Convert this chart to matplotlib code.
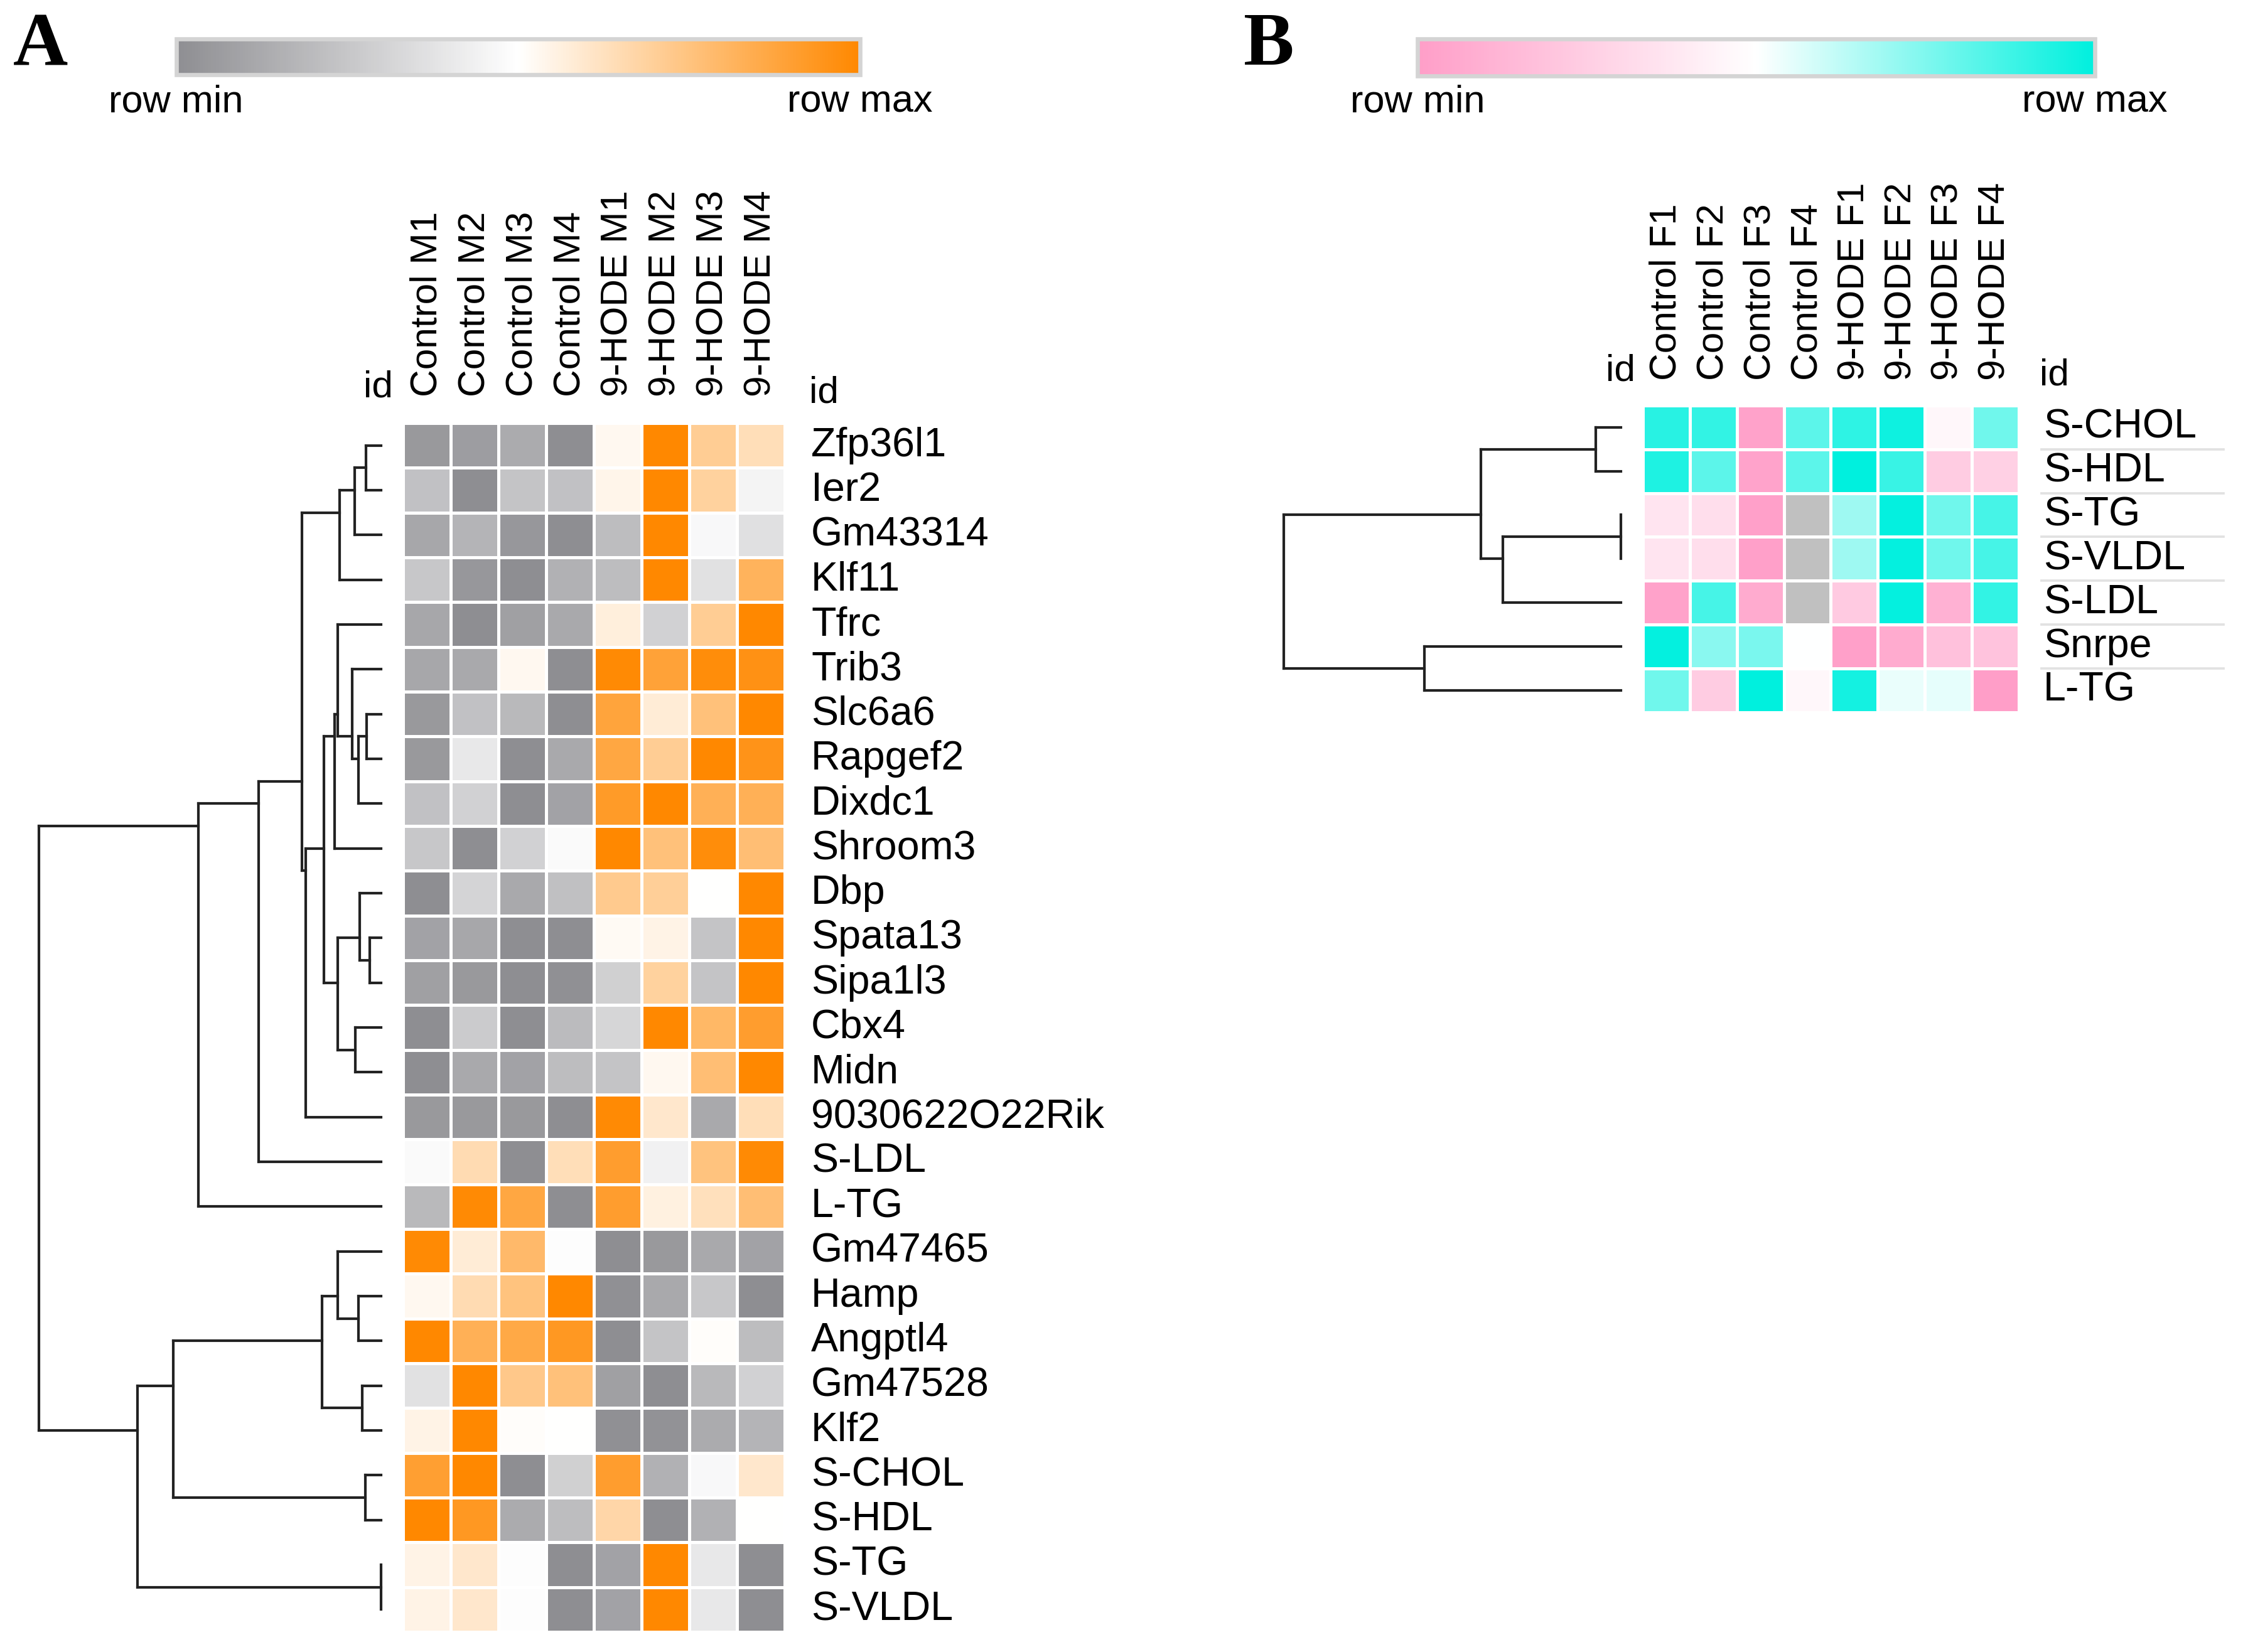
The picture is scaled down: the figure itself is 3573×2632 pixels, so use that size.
import numpy as np
import matplotlib
matplotlib.use('Agg')
import matplotlib.pyplot as plt
from matplotlib.colors import LinearSegmentedColormap, Normalize
from matplotlib.cm import ScalarMappable
from matplotlib.transforms import blended_transform_factory

plt.rcParams['font.family'] = ['Liberation Sans', 'DejaVu Sans']

# ---------------- panel A data (0 = row min, 1 = row max) ----------------
cols_a = ['Control M1', 'Control M2', 'Control M3', 'Control M4',
          '9-HODE M1', '9-HODE M2', '9-HODE M3', '9-HODE M4']
rows_a = ['Zfp36l1', 'Ier2', 'Gm43314', 'Klf11', 'Tfrc', 'Trib3', 'Slc6a6',
          'Rapgef2', 'Dixdc1', 'Shroom3', 'Dbp', 'Spata13', 'Sipa1l3', 'Cbx4',
          'Midn', '9030622O22Rik', 'S-LDL', 'L-TG', 'Gm47465', 'Hamp',
          'Angptl4', 'Gm47528', 'Klf2', 'S-CHOL', 'S-HDL', 'S-TG', 'S-VLDL']
vals_a = [
    [0.05, 0.07, 0.13, 0.00, 0.53, 1.00, 0.71, 0.64],
    [0.23, 0.00, 0.24, 0.23, 0.54, 1.00, 0.69, 0.45],
    [0.11, 0.17, 0.04, 0.00, 0.21, 1.00, 0.47, 0.36],
    [0.25, 0.04, 0.00, 0.16, 0.21, 1.00, 0.37, 0.82],
    [0.11, 0.00, 0.08, 0.12, 0.57, 0.30, 0.71, 1.00],
    [0.11, 0.12, 0.53, 0.00, 0.99, 0.89, 0.98, 0.96],
    [0.05, 0.23, 0.19, 0.00, 0.88, 0.58, 0.76, 1.00],
    [0.05, 0.40, 0.00, 0.12, 0.87, 0.71, 1.00, 0.95],
    [0.23, 0.30, 0.00, 0.09, 0.92, 1.00, 0.83, 0.83],
    [0.25, 0.00, 0.30, 0.48, 1.00, 0.76, 0.98, 0.77],
    [0.00, 0.31, 0.12, 0.22, 0.72, 0.70, 0.50, 1.00],
    [0.09, 0.11, 0.00, 0.00, 0.52, 0.55, 0.24, 1.00],
    [0.08, 0.05, 0.00, 0.01, 0.29, 0.69, 0.24, 1.00],
    [0.00, 0.27, 0.00, 0.20, 0.32, 1.00, 0.80, 0.91],
    [0.00, 0.12, 0.09, 0.21, 0.24, 0.53, 0.77, 1.00],
    [0.05, 0.05, 0.05, 0.00, 0.99, 0.60, 0.12, 0.64],
    [0.48, 0.65, 0.00, 0.64, 0.91, 0.44, 0.75, 0.99],
    [0.19, 0.99, 0.87, 0.00, 0.91, 0.56, 0.63, 0.77],
    [0.99, 0.58, 0.79, 0.49, 0.00, 0.05, 0.12, 0.09],
    [0.53, 0.65, 0.75, 1.00, 0.01, 0.12, 0.25, 0.00],
    [1.00, 0.83, 0.86, 0.93, 0.00, 0.24, 0.51, 0.21],
    [0.37, 1.00, 0.73, 0.76, 0.08, 0.00, 0.19, 0.30],
    [0.55, 1.00, 0.51, 0.50, 0.01, 0.02, 0.13, 0.17],
    [0.90, 1.00, 0.00, 0.29, 0.91, 0.16, 0.47, 0.60],
    [1.00, 0.93, 0.13, 0.21, 0.67, 0.00, 0.16, 0.50],
    [0.55, 0.60, 0.49, 0.00, 0.09, 1.00, 0.40, 0.00],
    [0.55, 0.60, 0.49, 0.00, 0.09, 1.00, 0.40, 0.00],
]
# row dendrogram: (child, child, distance); new nodes numbered from 27
tree_a = [
    (0, 1, 10.6), (27, 2, 18.4), (28, 3, 29.0),
    (6, 7, 10.1), (30, 8, 15.8), (5, 31, 20.2), (4, 32, 30.1), (33, 9, 32.7),
    (11, 12, 7.9), (10, 35, 14.9), (13, 14, 18.0), (36, 37, 30.3),
    (34, 38, 40.1), (39, 15, 52.4), (29, 40, 55.1), (41, 16, 85.1),
    (42, 17, 127.4),
    (19, 20, 15.8), (18, 44, 30.3), (21, 22, 13.4), (45, 46, 41.3),
    (23, 24, 11.2), (47, 48, 144.5), (25, 26, 0.0), (49, 50, 169.6),
    (43, 51, 238.2),
]

# ---------------- panel B data ----------------
cols_b = ['Control F1', 'Control F2', 'Control F3', 'Control F4',
          '9-HODE F1', '9-HODE F2', '9-HODE F3', '9-HODE F4']
rows_b = ['S-CHOL', 'S-HDL', 'S-TG', 'S-VLDL', 'S-LDL', 'Snrpe', 'L-TG']
nan = np.nan
vals_b = [
    [0.92, 0.90, 0.02, 0.82, 0.91, 0.97, 0.46, 0.78],
    [0.94, 0.82, 0.03, 0.82, 1.00, 0.89, 0.24, 0.26],
    [0.36, 0.33, 0.01, nan, 0.69, 0.99, 0.78, 0.86],
    [0.36, 0.33, 0.01, nan, 0.69, 0.99, 0.78, 0.86],
    [0.02, 0.86, 0.07, nan, 0.23, 0.99, 0.10, 0.90],
    [0.99, 0.73, 0.76, 0.50, 0.01, 0.07, 0.18, 0.19],
    [0.78, 0.24, 1.00, 0.46, 0.96, 0.54, 0.55, 0.00],
]
tree_b = [
    (0, 1, 17.6), (2, 3, 0.0), (8, 4, 82.0), (7, 9, 97.3),
    (5, 6, 136.7), (10, 11, 234.4),
]

cmap_a = LinearSegmentedColormap.from_list('gray_orange', ['#8e8e92', '#ffffff', '#ff8800'])
cmap_b = LinearSegmentedColormap.from_list('pink_cyan', ['#ff9ec8', '#ffffff', '#00f0de'])
cmap_b.set_bad('#c0c0c0')
norm = Normalize(0, 1)

W, H = 1560.0, 1149.2


def rect(x0, y0, x1, y1):
    return [x0 / W, 1 - y1 / H, (x1 - x0) / W, (y1 - y0) / H]


def heatmap(ax, vals, rows, cols, cmap, col_pad, row_pad):
    data = np.ma.masked_invalid(np.array(vals, dtype=float))
    ax.pcolormesh(data, cmap=cmap, norm=norm, edgecolors='white', linewidth=1.1)
    ax.set_xlim(0, len(cols))
    ax.set_ylim(len(rows), 0)
    ax.set_facecolor('#c0c0c0')
    ax.xaxis.tick_top()
    ax.set_xticks(np.arange(len(cols)) + 0.5)
    ax.set_xticklabels(cols, rotation=90, fontsize=14.5)
    ax.yaxis.tick_right()
    ax.set_yticks(np.arange(len(rows)) + 0.5)
    ax.set_yticklabels(rows, fontsize=15.5, va='center')
    ax.tick_params(axis='x', length=0, pad=col_pad)
    ax.tick_params(axis='y', length=0, pad=row_pad)
    for s in ax.spines.values():
        s.set_visible(False)


def dendrogram(ax, tree, n):
    pos = {i: i + 0.5 for i in range(n)}
    members = {i: [i] for i in range(n)}
    height = {i: 0.0 for i in range(n)}
    kw = dict(color='#222222', lw=1.0, clip_on=False, solid_capstyle='projecting')
    for k, (a, b, h) in enumerate(tree):
        node = n + k
        ax.plot([h, h], [pos[a], pos[b]], **kw)
        ax.plot([height[a], h], [pos[a], pos[a]], **kw)
        ax.plot([height[b], h], [pos[b], pos[b]], **kw)
        members[node] = members[a] + members[b]
        pos[node] = np.mean([m + 0.5 for m in members[node]])
        height[node] = h
    ax.set_xlim(tree[-1][2], 0)
    ax.set_ylim(n, 0)
    ax.axis('off')


def colorbar(fig, r, cmap):
    cax = fig.add_axes(r)
    cb = fig.colorbar(ScalarMappable(norm=norm, cmap=cmap), cax=cax, orientation='horizontal')
    cb.set_ticks([])
    cb.outline.set_edgecolor('#d4d4d4')
    cb.outline.set_linewidth(1.6)
    return cax


fig = plt.figure(figsize=(3573 / 300, 2632 / 300), dpi=300)

# panel A
ax_a = fig.add_axes(rect(280.5, 294.3, 545.6, 1135.2))
heatmap(ax_a, vals_a, rows_a, cols_a, cmap_a, col_pad=10, row_pad=10.2)
dn_a = fig.add_axes(rect(27, 294.3, 265.2, 1135.2))
dendrogram(dn_a, tree_a, len(rows_a))
colorbar(fig, rect(122.5, 27, 598, 52), cmap_a)
fig.text(122.5 / W, 1 - 78 / H, 'row min', ha='center', va='baseline', fontsize=14.7)
fig.text(598 / W, 1 - 78 / H, 'row max', ha='center', va='baseline', fontsize=14.7)
fig.text(263 / W, 1 - 276 / H, 'id', ha='center', va='baseline', fontsize=14.5)
fig.text(563 / W, 1 - 280 / H, 'id', ha='left', va='baseline', fontsize=14.5)
fig.text(9 / W, 1 - 45 / H, 'A', ha='left', va='baseline', fontsize=29,
         family='Liberation Serif', weight='bold')

# panel B
ax_b = fig.add_axes(rect(1142.6, 282, 1404, 495.4))
heatmap(ax_b, vals_b, rows_b, cols_b, cmap_b, col_pad=9.6, row_pad=9.4)
dn_b = fig.add_axes(rect(892.9, 282, 1127.3, 495.4))
dendrogram(dn_b, tree_b, len(rows_b))
colorbar(fig, rect(986, 27, 1457, 53), cmap_b)
fig.text(986 / W, 1 - 78 / H, 'row min', ha='center', va='baseline', fontsize=14.7)
fig.text(1457 / W, 1 - 78 / H, 'row max', ha='center', va='baseline', fontsize=14.7)
fig.text(1127 / W, 1 - 265 / H, 'id', ha='center', va='baseline', fontsize=14.5)
fig.text(1418.6 / W, 1 - 268 / H, 'id', ha='left', va='baseline', fontsize=14.5)
fig.text(865 / W, 1 - 45 / H, 'B', ha='left', va='baseline', fontsize=29,
         family='Liberation Serif', weight='bold')

# light separators under the row labels of panel B
sep = blended_transform_factory(fig.transFigure, ax_b.transData)
for i in range(1, len(rows_b)):
    ax_b.plot([1420 / W, 1546.6 / W], [i, i], transform=sep, color='#e2e2e2',
              lw=0.9, clip_on=False)

fig.savefig('out.png', dpi=300, facecolor='white')
